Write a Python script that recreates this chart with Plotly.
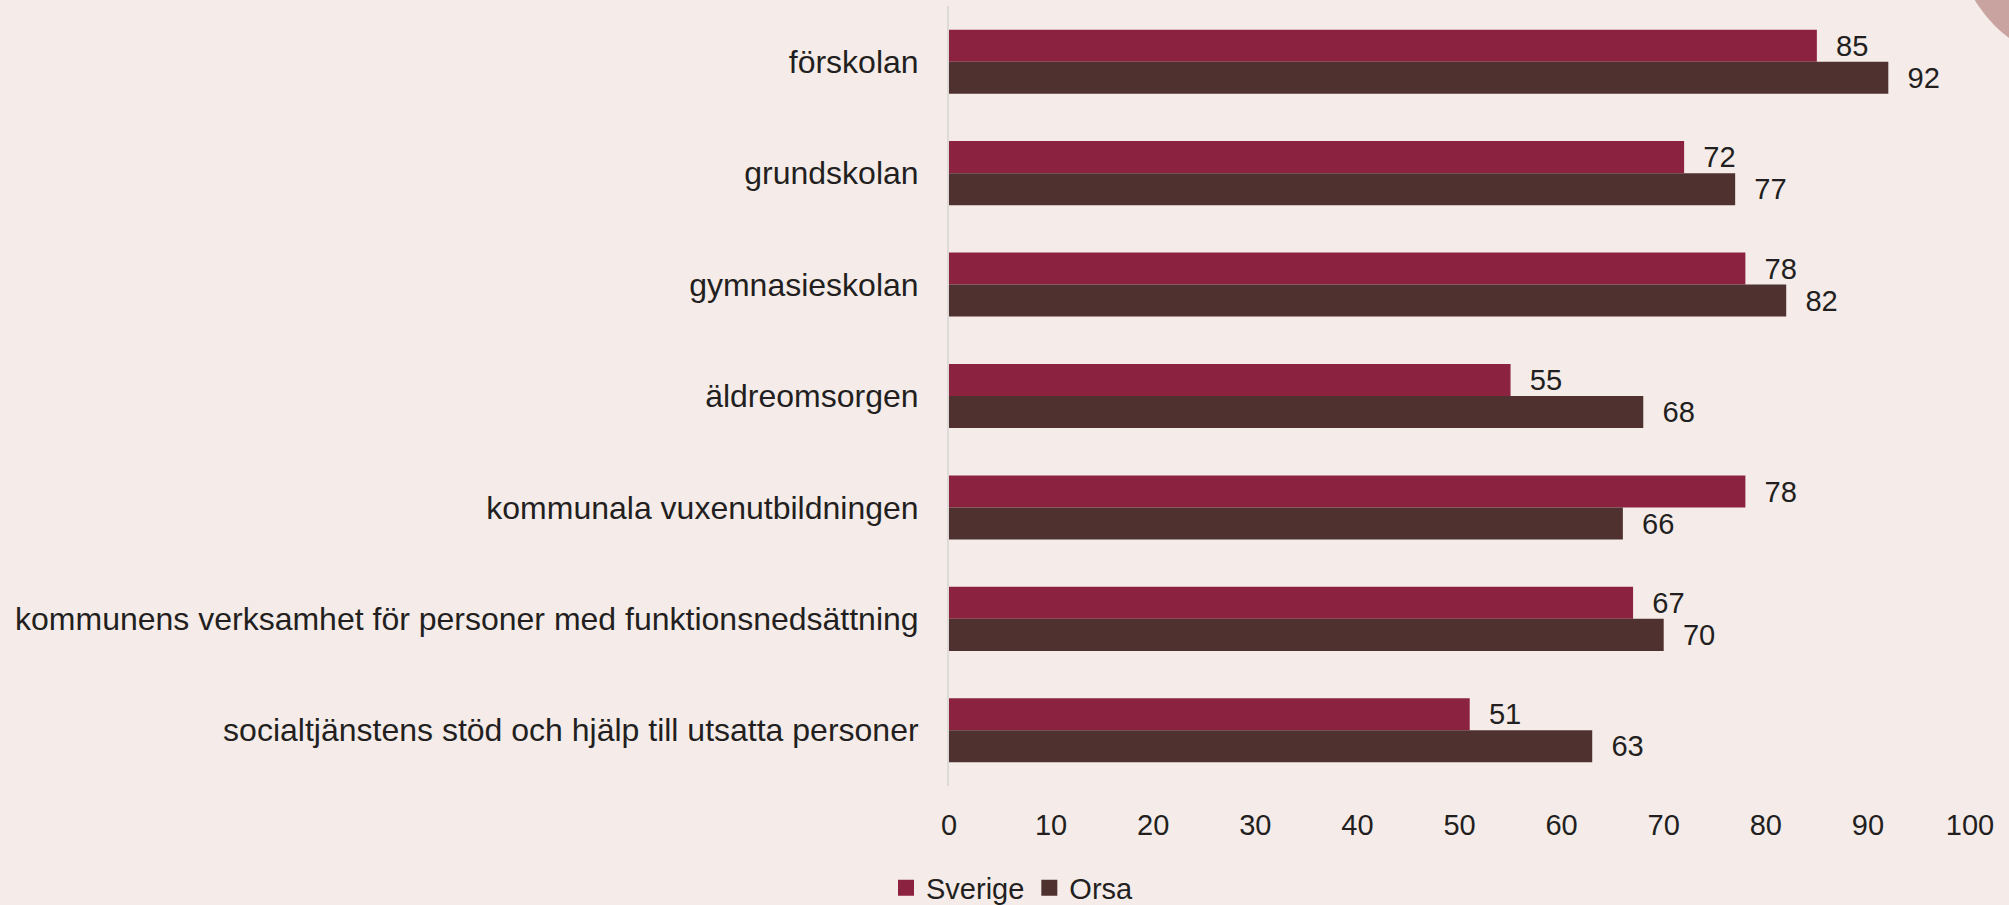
import plotly.graph_objects as go

categories = [
    "förskolan",
    "grundskolan",
    "gymnasieskolan",
    "äldreomsorgen",
    "kommunala vuxenutbildningen",
    "kommunens verksamhet för personer med funktionsnedsättning",
    "socialtjänstens stöd och hjälp till utsatta personer",
]
sverige = [85, 72, 78, 55, 78, 67, 51]
orsa = [92, 77, 82, 68, 66, 70, 63]
x_ticks = [0, 10, 20, 30, 40, 50, 60, 70, 80, 90, 100]

W, H = 2009, 905
ML, MR, MT, MB = 949, 39, 6, 119
PW, PH = W - ML - MR, H - MT - MB

BG = "#F5ECEA"
C_SV = "#8B2240"
C_OR = "#4F312F"
TXT = "#231F20"
FONT = "Liberation Sans, Arial, sans-serif"

def px2paper_x(px):
    return (px - ML) / PW

def px2paper_y(py):
    return (H - MB - py) / PH

fig = go.Figure()
for name, vals, col in [("Sverige", sverige, C_SV), ("Orsa", orsa, C_OR)]:
    fig.add_trace(go.Bar(
        name=name, y=categories, x=vals, orientation="h",
        marker=dict(color=col, line=dict(width=0)),
        text=[f"  {v}" for v in vals], textposition="outside",
        textfont=dict(size=30, color=TXT, family=FONT), cliponaxis=False,
        showlegend=False,
    ))
# legend entries with larger square markers
for name, col in [("Sverige", C_SV), ("Orsa", C_OR)]:
    fig.add_trace(go.Scatter(
        name=name, x=[None], y=[None], mode="markers",
        marker=dict(symbol="square", size=17, color=col, line=dict(width=0)),
        showlegend=True,
    ))

# decorative circle in top-right corner
cx, cy, r = 2085, -65, 128
fig.add_shape(
    type="circle", xref="paper", yref="paper", layer="below",
    x0=px2paper_x(cx - r), x1=px2paper_x(cx + r),
    y0=px2paper_y(cy + r), y1=px2paper_y(cy - r),
    fillcolor="#C9A3A0", line=dict(width=0),
)

fig.update_layout(
    width=W, height=H,
    margin=dict(l=ML, r=MR, t=MT, b=MB, pad=0, autoexpand=False),
    paper_bgcolor=BG, plot_bgcolor=BG,
    barmode="group", bargap=0.425, bargroupgap=0.0,
    font=dict(family=FONT, size=29, color=TXT),
    showlegend=True,
    legend=dict(
        orientation="h", x=px2paper_x(886), xanchor="left",
        y=px2paper_y(888), yanchor="middle",
        font=dict(size=29, color=TXT, family=FONT),
        bgcolor="rgba(0,0,0,0)", itemwidth=30, tracegroupgap=0,
        itemsizing="trace",
    ),
    xaxis=dict(
        range=[0, 100], tickvals=x_ticks, showgrid=False, zeroline=False,
        showline=False, ticks="", ticklabelstandoff=19,
        tickfont=dict(size=29, color=TXT, family=FONT),
        fixedrange=True,
    ),
    yaxis=dict(
        autorange="reversed", showgrid=False, zeroline=False,
        showline=True, linecolor="#DEDAD8", linewidth=2,
        ticks="", ticklabelstandoff=22,
        tickfont=dict(size=32, color=TXT, family=FONT),
    ),
)

fig.write_html(
    "out.html",
    config={"displayModeBar": False},
    post_script="document.body.style.margin='0';document.body.style.background='#F5ECEA';document.body.style.overflow='hidden';",
)
